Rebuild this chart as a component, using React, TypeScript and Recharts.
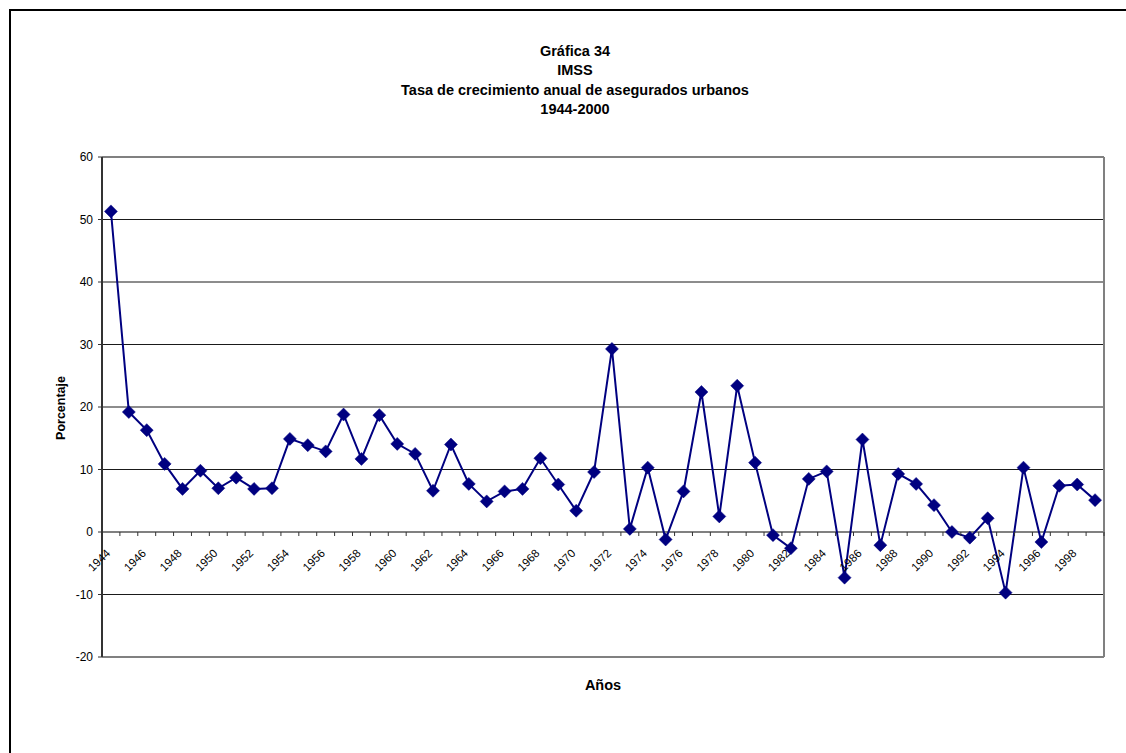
import { CartesianGrid, Line, LineChart, ReferenceLine, XAxis, YAxis } from "recharts";

// IMSS — annual growth rate of urban insured workers, 1944-1999
const YEARS = [
  "1944", "1945", "1946", "1947", "1948", "1949", "1950", "1951", "1952", "1953",
  "1954", "1955", "1956", "1957", "1958", "1959", "1960", "1961", "1962", "1963",
  "1964", "1965", "1966", "1967", "1968", "1969", "1970", "1971", "1972", "1973",
  "1974", "1975", "1976", "1977", "1978", "1979", "1980", "1981", "1982", "1983",
  "1984", "1985", "1986", "1987", "1988", "1989", "1990", "1991", "1992", "1993",
  "1994", "1995", "1996", "1997", "1998", "1999",
];

const GROWTH = [
  51.3, 19.2, 16.3, 10.9, 6.9, 9.8, 7.0, 8.7, 6.9, 7.0,
  14.9, 13.9, 12.9, 18.8, 11.7, 18.7, 14.1, 12.5, 6.6, 14.0,
  7.7, 4.9, 6.5, 6.9, 11.8, 7.6, 3.4, 9.6, 29.3, 0.5,
  10.3, -1.2, 6.5, 22.4, 2.5, 23.4, 11.1, -0.5, -2.6, 8.5,
  9.7, -7.3, 14.8, -2.1, 9.3, 7.7, 4.3, 0.0, -0.9, 2.2,
  -9.7, 10.3, -1.6, 7.4, 7.6, 5.1,
];

const Y_TICKS = [-20, -10, 0, 10, 20, 30, 40, 50, 60];

const TITLE_LINES = [
  "Gráfica 34",
  "IMSS",
  "Tasa de crecimiento anual de asegurados urbanos",
  "1944-2000",
];

const data = YEARS.map((year, i) => ({ year, value: GROWTH[i] }));

const FONT = "Arial, 'Liberation Sans', sans-serif";
const NAVY = "#000080";
const FRAME = "#808080";
const INK = "#333333";

const W = 1126;
const H = 753;
const MARGIN = { top: 157, right: 22, bottom: 66, left: 0 };
const Y_AXIS_W = 102;
const X_AXIS_H = 30;
const PLOT_W = W - MARGIN.left - MARGIN.right - Y_AXIS_W;
const PLOT_H = H - MARGIN.top - MARGIN.bottom - X_AXIS_H;
const BAND = PLOT_W / YEARS.length;
const Y_MIN = -20;
const Y_MAX = 60;

// Excel-style category axis: crosses at 0, marks at band edges, every other year labelled.
function YearTick(props: any) {
  const { x, y, payload, index } = props;
  const zeroY = y - (PLOT_H * (0 - Y_MIN)) / (Y_MAX - Y_MIN);
  const left = x - BAND / 2;
  const last = index === YEARS.length - 1;
  return (
    <g>
      <line x1={left} x2={left} y1={zeroY} y2={zeroY + 4} stroke={INK} strokeWidth={1} />
      {last && <line x1={x + BAND / 2} x2={x + BAND / 2} y1={zeroY} y2={zeroY + 4} stroke={INK} strokeWidth={1} />}
      {index % 2 === 0 && (
        <text
          x={0}
          y={0}
          transform={`translate(${x},${zeroY + 22}) rotate(-45)`}
          textAnchor="end"
          fontSize={11.5}
          fontFamily={FONT}
          fill="#000"
        >
          {payload.value}
        </text>
      )}
    </g>
  );
}

function Diamond(props: any) {
  const { cx, cy, index } = props;
  if (cx == null || cy == null) return null;
  const r = 6.5;
  return (
    <path
      key={`d-${index}`}
      d={`M${cx},${cy - r}L${cx + r},${cy}L${cx},${cy + r}L${cx - r},${cy}Z`}
      fill={NAVY}
      stroke={NAVY}
      strokeWidth={0.5}
    />
  );
}

// plot-area border: top, bottom and right edges in gray
const frameRows = ({ offset }: any) => [offset.top, offset.top + offset.height];
const frameCols = ({ offset }: any) => [offset.left + offset.width];

export default function App() {
  return (
    <div style={{ position: "fixed", left: 0, top: 0, width: W, height: H, overflow: "hidden", background: "#fff" }}>
      <div
        style={{
          position: "absolute",
          left: 9,
          top: 9,
          width: 1300,
          height: 900,
          borderTop: "2px solid #000",
          borderLeft: "2px solid #000",
        }}
      />
      <div style={{ position: "absolute", left: 0, top: 0 }}>
        <LineChart width={W} height={H} data={data} margin={MARGIN}>
          <CartesianGrid horizontal vertical={false} stroke="#1a1a1a" strokeWidth={1} />
          <CartesianGrid
            horizontalCoordinatesGenerator={frameRows}
            verticalCoordinatesGenerator={frameCols}
            stroke={FRAME}
            strokeWidth={2}
          />
          <XAxis
            dataKey="year"
            interval={0}
            height={X_AXIS_H}
            padding={{ left: BAND / 2, right: BAND / 2 }}
            axisLine={false}
            tickLine={false}
            tickSize={0}
            tickMargin={0}
            tick={YearTick}
          />
          <YAxis
            domain={[Y_MIN, Y_MAX]}
            ticks={Y_TICKS}
            interval={0}
            width={Y_AXIS_W}
            axisLine={{ stroke: INK, strokeWidth: 2 }}
            tickLine={{ stroke: INK }}
            tickSize={4}
            tickMargin={5}
            tick={{ fill: "#000", fontSize: 12, fontFamily: FONT }}
          />
          <ReferenceLine y={0} stroke={FRAME} strokeWidth={2} />
          <Line
            type="linear"
            dataKey="value"
            stroke={NAVY}
            strokeWidth={2}
            dot={Diamond}
            activeDot={false}
            isAnimationActive={false}
          />
        </LineChart>
      </div>
      <svg width={W} height={H} style={{ position: "absolute", left: 0, top: 0, pointerEvents: "none" }}>
        {TITLE_LINES.map((line, i) => (
          <text
            key={line}
            x={575}
            y={56 + i * 19.3}
            textAnchor="middle"
            fontSize={14.5}
            fontWeight="bold"
            fontFamily={FONT}
            fill="#000"
          >
            {line}
          </text>
        ))}
        <text
          x={0}
          y={0}
          transform="translate(65,408) rotate(-90)"
          textAnchor="middle"
          fontSize={12.5}
          fontWeight="bold"
          fontFamily={FONT}
          fill="#000"
        >
          Porcentaje
        </text>
        <text x={603} y={690} textAnchor="middle" fontSize={14.5} fontWeight="bold" fontFamily={FONT} fill="#000">
          Años
        </text>
      </svg>
    </div>
  );
}
